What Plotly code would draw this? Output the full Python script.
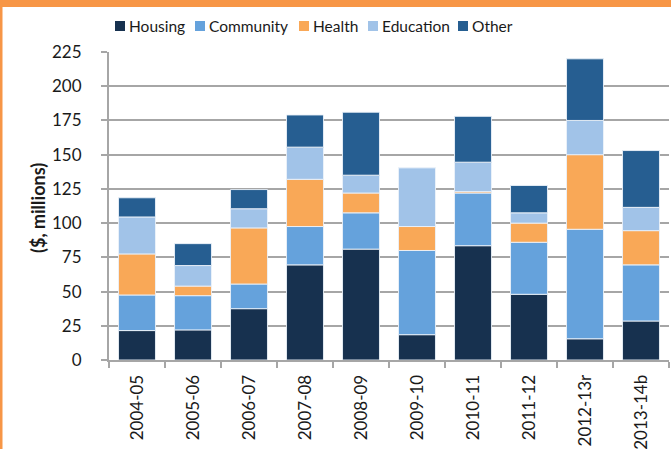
import plotly.graph_objects as go

years = ["2004-05", "2005-06", "2006-07", "2007-08", "2008-09",
         "2009-10", "2010-11", "2011-12", "2012-13r", "2013-14b"]
housing = [21.5, 22, 37.5, 69.5, 81, 18.5, 83.5, 48, 15.5, 28.5]
community = [26, 25, 18, 28, 26.5, 61.5, 38.5, 38, 80, 41]
health = [30, 7, 41, 34.5, 14.5, 17.5, 1, 14, 54.5, 25]
education = [27, 15, 14, 23.5, 13, 43, 21.5, 7.5, 25, 17]
other = [14, 16, 14, 23.5, 46, 0, 33.5, 20, 45, 41.5]

series = [
    ("Housing", housing, "#17314F"),
    ("Community", community, "#65A2DC"),
    ("Health", health, "#F9A857"),
    ("Education", education, "#A1C3E8"),
    ("Other", other, "#265E91"),
]
legend_text_x = [128, 208, 312, 381, 471]

FONT = "Lato"
TXT = "#1a1a1a"
fig = go.Figure()
for name, vals, col in series:
    fig.add_trace(go.Bar(
        x=years, y=vals, name=name, showlegend=False, hoverinfo="skip",
        marker=dict(color=col, line=dict(color="rgba(235,242,250,0.9)", width=1)),
    ))

W, H = 671, 449
L, R, T, B = 109, 2, 52, 89
pw, ph = W - L - R, H - T - B

def px_x(x):
    return (x - L) / pw

def px_y(y):
    return (H - B - y) / ph

shapes = [
    dict(type="rect", xref="paper", yref="paper", layer="above",
         x0=px_x(0), x1=px_x(671), y0=px_y(7), y1=px_y(0),
         fillcolor="#F79646", line=dict(width=0)),
    dict(type="rect", xref="paper", yref="paper", layer="above",
         x0=px_x(0), x1=px_x(2.5), y0=px_y(449), y1=px_y(0),
         fillcolor="#F79646", line=dict(width=0)),
]
annotations = []
for (name, vals, col), tx in zip(series, legend_text_x):
    shapes.append(dict(type="rect", xref="paper", yref="paper",
                       x0=px_x(tx - 13), x1=px_x(tx - 3), y0=px_y(31), y1=px_y(21),
                       fillcolor=col, line=dict(width=0)))
    annotations.append(dict(text=name, xref="paper", yref="paper",
                            x=px_x(tx - 1), y=px_y(26), xanchor="left", yanchor="middle",
                            showarrow=False, font=dict(family=FONT, size=15.5, color=TXT)))
annotations.append(dict(text="<b>($, millions)</b>", xref="paper", yref="paper",
                        x=px_x(38), y=px_y(208), xanchor="center", yanchor="middle",
                        textangle=-90, showarrow=False,
                        font=dict(family=FONT, size=18, color=TXT)))

fig.update_layout(
    width=W, height=H,
    barmode="relative",
    bargap=0.34,
    plot_bgcolor="white",
    paper_bgcolor="white",
    margin=dict(l=L, r=R, t=T, b=B, pad=0, autoexpand=False),
    font=dict(family=FONT, size=17, color=TXT),
    showlegend=False,
    hovermode=False,
    xaxis=dict(
        type="category", tickangle=-90, showgrid=False, automargin=False,
        showline=True, linecolor="#A6A6A6", linewidth=2,
        ticks="outside", tickson="boundaries", ticklen=6, tickcolor="#A6A6A6", tickwidth=2,
        tickfont=dict(family=FONT, size=17, color=TXT),
        ticklabelstandoff=6,
    ),
    yaxis=dict(
        range=[0, 225], tickmode="array", tickvals=list(range(0, 226, 25)),
        automargin=False,
        showgrid=True, gridcolor="#A6A6A6", gridwidth=2,
        showline=True, linecolor="#A6A6A6", linewidth=2,
        ticks="outside", ticklen=6, tickcolor="#A6A6A6", tickwidth=2,
        tickfont=dict(family=FONT, size=17, color=TXT),
        ticklabelstandoff=16,
        zeroline=False,
    ),
    shapes=shapes,
    annotations=annotations,
)

fig.write_html("out.html", config={"displayModeBar": False, "staticPlot": True},
               post_script="document.body.style.margin='0';document.body.style.overflow='hidden';")
